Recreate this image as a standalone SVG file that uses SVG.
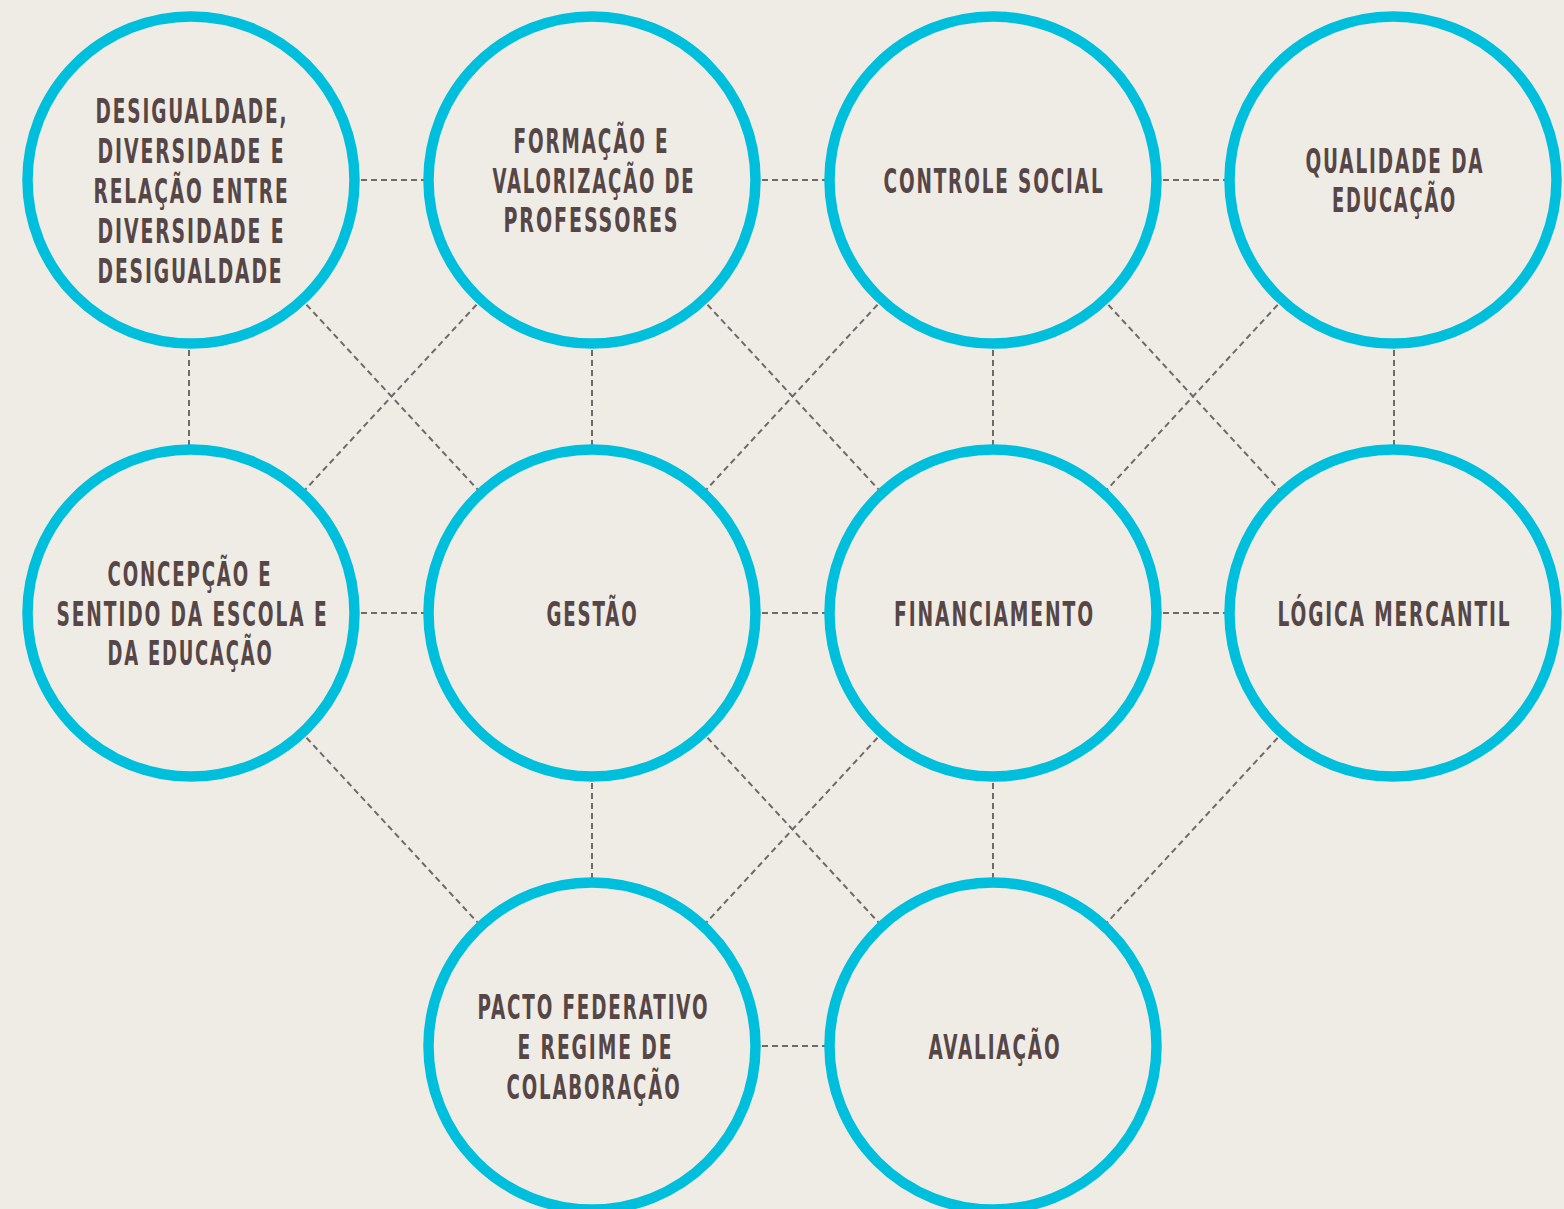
<svg xmlns="http://www.w3.org/2000/svg" width="1564" height="1209" viewBox="0 0 1564 1209">
<style>
.bg{fill:#efece6}
.c{fill:#efece6;stroke:#00bfdc;stroke-width:10.5}
.l{stroke:#6e6a68;stroke-width:2;stroke-dasharray:6 4;fill:none}
.t{font-family:"Liberation Sans Narrow","DejaVu Sans Condensed","Liberation Sans",sans-serif;font-weight:bold;font-size:33px;letter-spacing:3px;fill:#574646;text-anchor:middle}
</style>
<rect class="bg" x="0" y="0" width="1564" height="1209"/>
<g id="connectors">
<line class="l" x1="191" y1="180" x2="592" y2="180"/>
<line class="l" x1="592" y1="180" x2="993" y2="180"/>
<line class="l" x1="993" y1="180" x2="1393" y2="180"/>
<line class="l" x1="191" y1="613" x2="592" y2="613"/>
<line class="l" x1="592" y1="613" x2="993" y2="613"/>
<line class="l" x1="993" y1="613" x2="1393" y2="613"/>
<line class="l" x1="592" y1="1046" x2="993" y2="1046"/>
<line class="l" x1="189" y1="180" x2="189" y2="613"/>
<line class="l" x1="592" y1="180" x2="592" y2="613"/>
<line class="l" x1="993" y1="180" x2="993" y2="613"/>
<line class="l" x1="1394" y1="180" x2="1394" y2="613"/>
<line class="l" x1="592" y1="613" x2="592" y2="1046"/>
<line class="l" x1="993" y1="613" x2="993" y2="1046"/>
<line class="l" x1="191" y1="180" x2="592" y2="613"/>
<line class="l" x1="592" y1="180" x2="191" y2="613"/>
<line class="l" x1="592" y1="180" x2="993" y2="613"/>
<line class="l" x1="993" y1="180" x2="592" y2="613"/>
<line class="l" x1="993" y1="180" x2="1393" y2="613"/>
<line class="l" x1="1393" y1="180" x2="993" y2="613"/>
<line class="l" x1="191" y1="613" x2="592" y2="1046"/>
<line class="l" x1="592" y1="613" x2="993" y2="1046"/>
<line class="l" x1="993" y1="613" x2="592" y2="1046"/>
<line class="l" x1="1393" y1="613" x2="993" y2="1046"/>
</g>
<g id="n1"><circle class="c" cx="191" cy="180" r="163.5"/>
<text class="t" x="192" y="123" textLength="193" lengthAdjust="spacingAndGlyphs">DESIGUALDADE,</text>
<text class="t" x="191.5" y="163" textLength="188" lengthAdjust="spacingAndGlyphs">DIVERSIDADE E</text>
<text class="t" x="191.5" y="203" textLength="196" lengthAdjust="spacingAndGlyphs">RELAÇÃO ENTRE</text>
<text class="t" x="191.5" y="243" textLength="188" lengthAdjust="spacingAndGlyphs">DIVERSIDADE E</text>
<text class="t" x="190.5" y="283" textLength="186" lengthAdjust="spacingAndGlyphs">DESIGUALDADE</text>
</g>
<g id="n2"><circle class="c" cx="592" cy="180" r="163.5"/>
<text class="t" x="591.5" y="153" textLength="156" lengthAdjust="spacingAndGlyphs">FORMAÇÃO E</text>
<text class="t" x="594" y="193" textLength="203" lengthAdjust="spacingAndGlyphs">VALORIZAÇÃO DE</text>
<text class="t" x="591.5" y="232" textLength="176" lengthAdjust="spacingAndGlyphs">PROFESSORES</text>
</g>
<g id="n3"><circle class="c" cx="993" cy="180" r="163.5"/>
<text class="t" x="994" y="193" textLength="221" lengthAdjust="spacingAndGlyphs">CONTROLE SOCIAL</text>
</g>
<g id="n4"><circle class="c" cx="1393" cy="180" r="163.5"/>
<text class="t" x="1395" y="173" textLength="179" lengthAdjust="spacingAndGlyphs">QUALIDADE DA</text>
<text class="t" x="1394.5" y="212" textLength="125" lengthAdjust="spacingAndGlyphs">EDUCAÇÃO</text>
</g>
<g id="n5"><circle class="c" cx="191" cy="613" r="163.5"/>
<text class="t" x="190" y="586" textLength="165" lengthAdjust="spacingAndGlyphs">CONCEPÇÃO E</text>
<text class="t" x="192.5" y="625.5" textLength="272" lengthAdjust="spacingAndGlyphs">SENTIDO DA ESCOLA E</text>
<text class="t" x="190.5" y="665" textLength="166" lengthAdjust="spacingAndGlyphs">DA EDUCAÇÃO</text>
</g>
<g id="n6"><circle class="c" cx="592" cy="613" r="163.5"/>
<text class="t" x="592.5" y="625.5" textLength="92" lengthAdjust="spacingAndGlyphs">GESTÃO</text>
</g>
<g id="n7"><circle class="c" cx="993" cy="613" r="163.5"/>
<text class="t" x="994.5" y="625.5" textLength="201" lengthAdjust="spacingAndGlyphs">FINANCIAMENTO</text>
</g>
<g id="n8"><circle class="c" cx="1393" cy="613" r="163.5"/>
<text class="t" x="1394.5" y="625.5" textLength="234" lengthAdjust="spacingAndGlyphs">LÓGICA MERCANTIL</text>
</g>
<g id="n9"><circle class="c" cx="592" cy="1046" r="163.5"/>
<text class="t" x="593.5" y="1019" textLength="232" lengthAdjust="spacingAndGlyphs">PACTO FEDERATIVO</text>
<text class="t" x="595.5" y="1059" textLength="156" lengthAdjust="spacingAndGlyphs">E REGIME DE</text>
<text class="t" x="594" y="1099" textLength="175" lengthAdjust="spacingAndGlyphs">COLABORAÇÃO</text>
</g>
<g id="n10"><circle class="c" cx="993" cy="1046" r="163.5"/>
<text class="t" x="995" y="1058.5" textLength="133" lengthAdjust="spacingAndGlyphs">AVALIAÇÃO</text>
</g>
</svg>
